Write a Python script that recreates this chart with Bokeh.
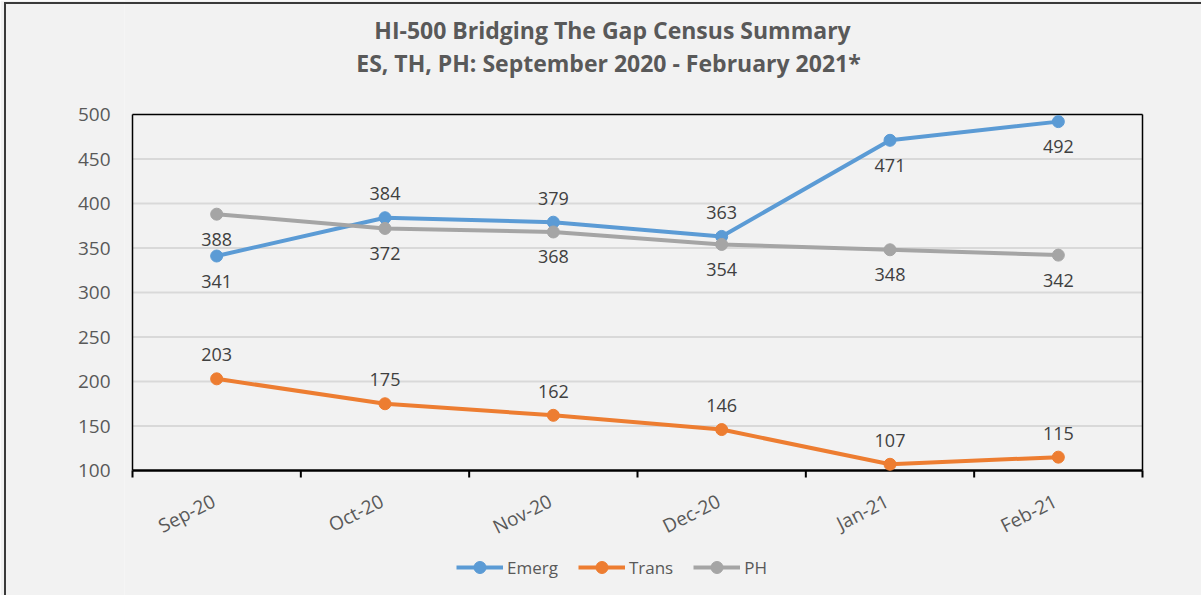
import math
from bokeh.plotting import figure
from bokeh.models import (Range1d, FixedTicker, Legend, LegendItem, ColumnDataSource,
                          InlineStyleSheet)
from bokeh.core.properties import value
from bokeh.embed import file_html
from bokeh.resources import INLINE

# ---- data ----
months = ["Sep-20", "Oct-20", "Nov-20", "Dec-20", "Jan-21", "Feb-21"]
emerg = [341, 384, 379, 363, 471, 492]
trans = [203, 175, 162, 146, 107, 115]
ph = [388, 372, 368, 354, 348, 342]
series_names = ["Emerg", "Trans", "PH"]
y_ticks = [100, 150, 200, 250, 300, 350, 400, 450, 500]
title_lines = ["HI-500 Bridging The Gap Census Summary",
               "ES, TH, PH: September 2020 - February 2021*"]

# ---- style / layout (pixels) ----
colors = ["#5b9bd5", "#ed7d31", "#a5a5a5"]
label_pos = [
    ["below", "above", "above", "above", "below", "below"],
    ["above"] * 6,
    ["below"] * 6,
]
FONT = "Open Sans"
BG = "#f2f2f2"
W, H = 1201, 595
FRAME_LEFT = 124
PX_LEFT, PX_RIGHT, PX_TOP, PX_BOTTOM = 132, 1142, 114, 470

n = len(months)
y_lo, y_hi = y_ticks[0], y_ticks[-1]
sx = (PX_RIGHT - PX_LEFT) / n
sy = (PX_BOTTOM - PX_TOP) / (y_hi - y_lo)
x_range = Range1d(-(PX_LEFT - FRAME_LEFT) / sx, n + (W - PX_RIGHT) / sx)
y_range = Range1d(y_lo - (H - PX_BOTTOM) / sy, y_hi + PX_TOP / sy)

xs = [i + 0.5 for i in range(n)]
bounds = list(range(n + 1))

border_css = InlineStyleSheet(css="""
:host { position: relative; }
:host::after {
  content: ""; position: absolute; left: 4px; top: 2px; right: 0; bottom: 0;
  border-left: 2px solid #3a3a3a; border-top: 2px solid #3a3a3a;
  pointer-events: none;
}
""")

p = figure(width=W, height=H, output_backend="svg", toolbar_location=None,
           x_range=x_range, y_range=y_range, x_axis_location=None,
           background_fill_color=BG, border_fill_color=BG,
           min_border_left=FRAME_LEFT, min_border_right=0, min_border_top=0, min_border_bottom=0,
           stylesheets=[border_css])
p.outline_line_color = None
p.grid.visible = False

# y axis labels (via the library's axis)
p.yaxis.ticker = FixedTicker(ticks=y_ticks)
p.yaxis.axis_line_color = None
p.yaxis.major_tick_line_color = None
p.yaxis.minor_tick_line_color = None
p.yaxis.major_tick_out = 0
p.yaxis.major_tick_in = 0
p.yaxis.major_label_text_font = FONT
p.yaxis.major_label_text_font_size = "19px"
p.yaxis.major_label_text_color = "#595959"
p.yaxis.major_label_standoff = 22 - (PX_LEFT - FRAME_LEFT)

# gridlines
grid_vals = y_ticks[1:-1]
p.segment(x0=[0] * len(grid_vals), y0=grid_vals, x1=[n] * len(grid_vals), y1=grid_vals,
          line_color="#d9d9d9", line_width=2)

# plot-area border
p.segment(x0=[0, 0, n], y0=[y_lo, y_hi, y_lo], x1=[0, n, n], y1=[y_hi, y_hi, y_hi],
          line_color="black", line_width=1.5)
# x axis line + category boundary ticks
p.segment(x0=[0], y0=[y_lo], x1=[n], y1=[y_lo], line_color="black", line_width=2.5)
p.ray(x=bounds, y=[y_lo] * len(bounds), length=7, length_units="screen",
      angle=-math.pi / 2, line_color="black", line_width=2)
# category labels
p.text(x=xs, y=[y_lo] * n, text=months, angle=0.47, text_align="right",
       text_baseline="middle", x_offset=-3, y_offset=29, text_font=value(FONT),
       text_font_size="19px", text_color="#595959")

items = []
for name, vals, col, pos in zip(series_names, [emerg, trans, ph], colors, label_pos):
    src = ColumnDataSource(dict(x=xs, y=vals, t=[str(v) for v in vals],
                                off=[25 if q == "below" else -24 for q in pos]))
    ln = p.line("x", "y", source=src, line_color=col, line_width=4)
    sc = p.scatter("x", "y", source=src, size=12, fill_color=col, line_color=col)
    p.text("x", "y", text="t", source=src, y_offset="off", text_align="center",
           text_baseline="middle", text_font=value(FONT), text_font_size="18px",
           text_color="#404040")
    items.append(LegendItem(label=name, renderers=[ln, sc]))

# title (two lines)
p.text(x=[n / 2, n / 2], y=[y_hi, y_hi], text=title_lines, x_offset=[-25, -29],
       y_offset=[-85, -52], text_align="center", text_baseline="middle",
       text_font=value(FONT), text_font_size="23px", text_font_style="bold",
       text_color="#595959")

legend = Legend(items=items, orientation="horizontal", location=(456 - FRAME_LEFT, 13),
                label_text_font=FONT, label_text_font_size="17px",
                label_text_color="#595959", glyph_width=47, glyph_height=30,
                label_standoff=4, spacing=20, background_fill_alpha=0,
                border_line_color=None, margin=0, padding=5)
p.add_layout(legend, "center")

open("out.html", "w").write(file_html(p, INLINE))
